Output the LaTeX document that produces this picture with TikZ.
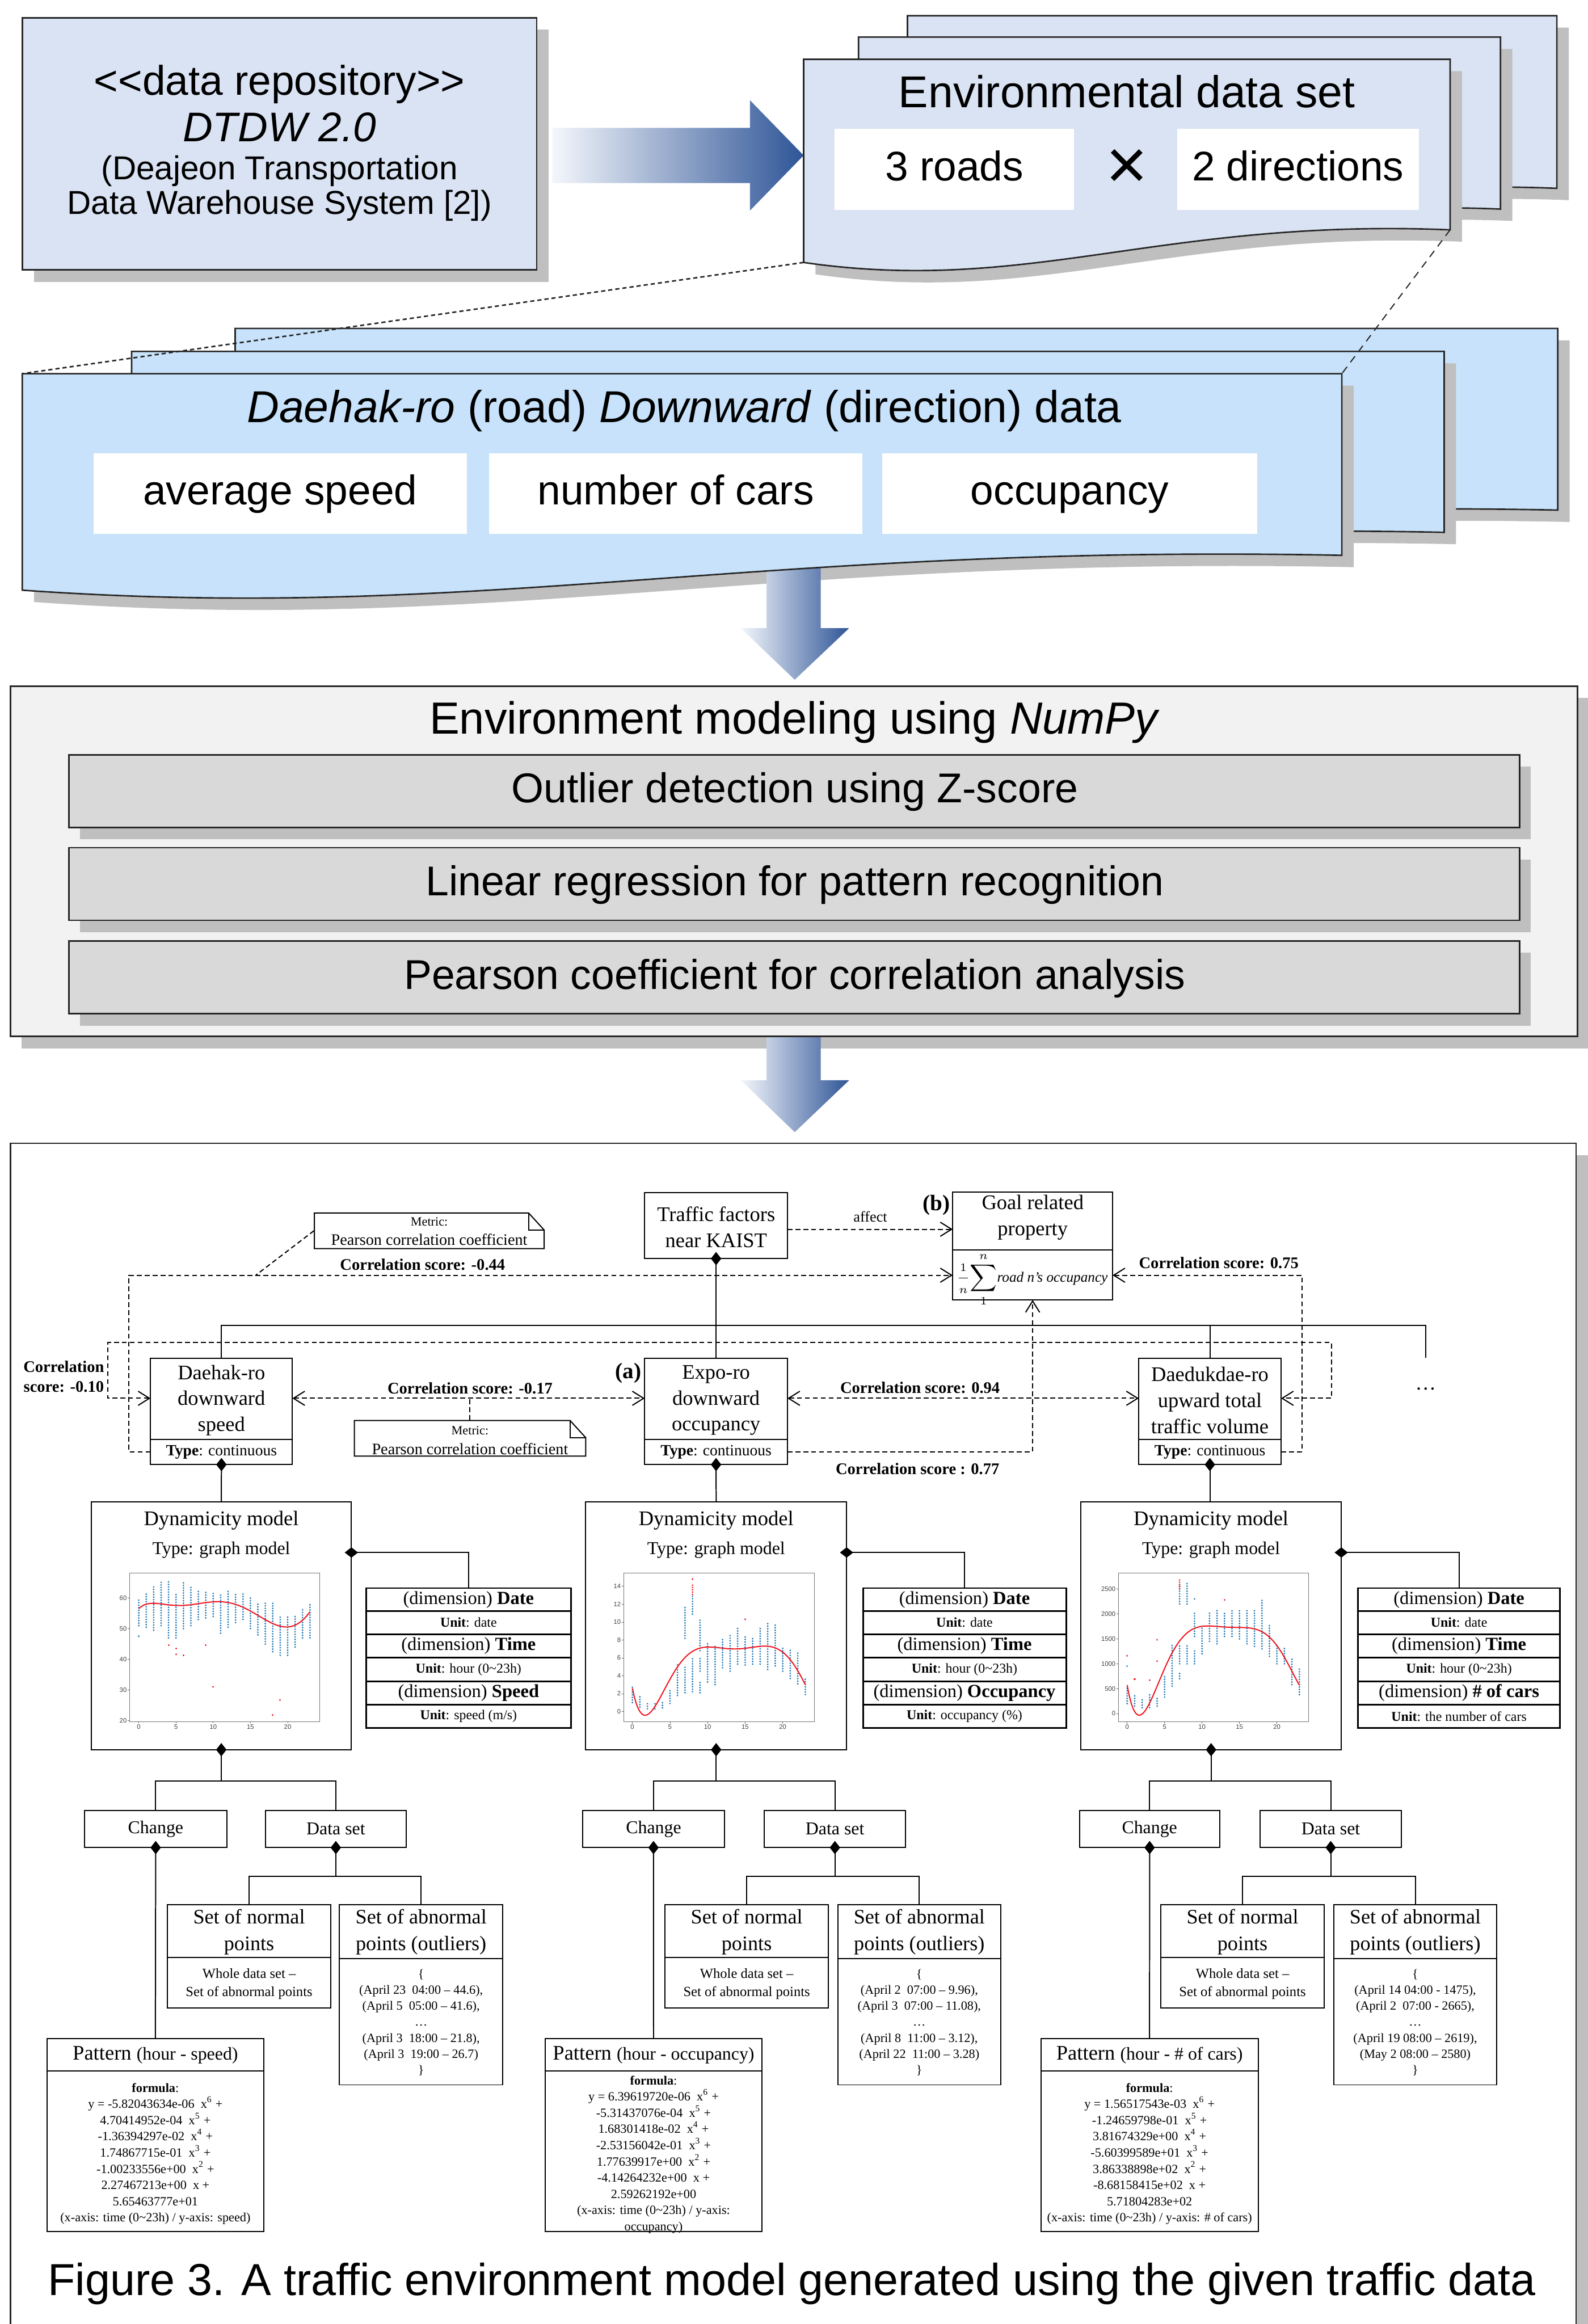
\documentclass[tikz,border=0pt]{standalone}
\usepackage{fontspec}
\setmainfont{Liberation Serif}
\newfontfamily\arial{Liberation Sans}
\usepackage{xfp}
\usetikzlibrary{arrows.meta,fit}

\newcommand\fs[2]{\fontsize{#1}{#2}\selectfont}
\definecolor{shd}{HTML}{BFBFBF}
\definecolor{lav}{HTML}{DAE3F3}
\definecolor{lblue}{HTML}{C7E2FA}
\definecolor{dblue}{HTML}{2F5597}
\definecolor{mblue}{HTML}{8FAADC}
\definecolor{pale}{HTML}{F4F7FC}
\definecolor{boxgray}{HTML}{D9D9D9}
\definecolor{panel}{HTML}{F2F2F2}
\definecolor{ptblue}{HTML}{1F77B4}
\definecolor{ptred}{HTML}{F0141E}
\definecolor{edge}{HTML}{262626}

\def\polyS#1{((((((-5.82043634e-06*#1+4.70414952e-04)*#1-1.36394297e-02)*#1+1.74867715e-01)*#1-1.00233556)*#1+2.27467213)*#1+56.5463777)}
\def\polyO#1{((((((6.39619720e-06*#1-5.31437076e-04)*#1+1.68301418e-02)*#1-2.53156042e-01)*#1+1.77639917)*#1-4.14264232)*#1+2.59262192)}
\def\polyC#1{((((((1.56517543e-03*#1-1.24659798e-01)*#1+3.81674329)*#1-56.0399589)*#1+386.338898)*#1-868.158415)*#1+571.804283)}
\newcount\cidx
\newcommand\mkcurve[2]{%
  \gdef#1{}\cidx=0
  \loop
    \edef\tmpx{\fpeval{\the\cidx/4}}%
    \edef\tmpy{\fpeval{round(#2{\tmpx},3)}}%
    \ifnum\cidx=0 \xdef#1{(\tmpx,\tmpy)}\else\xdef#1{#1 -- (\tmpx,\tmpy)}\fi
    \advance\cidx by 1
  \ifnum\cidx<93 \repeat}
\mkcurve\curveS\polyS
\mkcurve\curveO\polyO
\mkcurve\curveC\polyC

\newcommand\dmv[1]{\fill[black] #1 ++(0,-4.5) -- ++(3.5,4.5) -- ++(-3.5,4.5) -- ++(-3.5,-4.5) -- cycle;}
\newcommand\dmh[1]{\fill[black] #1 ++(-4.5,0) -- ++(4.5,3.5) -- ++(4.5,-3.5) -- ++(-4.5,-3.5) -- cycle;}
% L R T yl yr c2x c1x
\newcommand\docshadow[7]{\fill[shd] ({#1+8},{#3+8}) -- ({#2+8},{#3+8}) -- ({#2+8},{#5+8}) .. controls ({#6+8},{#5}) and ({#7+8},{#4+30}) .. ({#1+8},{#4+8}) -- cycle;}
\newcommand\docface[8]{\filldraw[fill=#8, draw=edge, line width=0.8pt] (#1,#3) -- (#2,#3) -- (#2,#5) .. controls (#6,{#5-8}) and (#7,{#4+22}) .. (#1,#4) -- cycle;}
\newcommand\notebox[5]{%
  \filldraw[fill=white, draw=black, line width=0.6pt] (#2,#3) -- ({#4-10.5},#3) -- (#4,{#3+11.5}) -- (#4,#5) -- (#2,#5) -- cycle;
  \draw[line width=0.6pt] ({#4-10.5},#3) -- ({#4-10.5},{#3+11.5}) -- (#4,{#3+11.5});
  \node[fit={(#2,#3) (#4,#5)}, inner sep=0pt] (#1) {};}
% name x1 x2 cx dim3 unit3
\newcommand\dimsbox[6]{%
  \node[ubox, line width=0.9pt, fit={(#2,1071) (#3,1165.5)}] (#1) {};
  \foreach \yy in {1086.5,1102,1118,1134,1149.5} \draw[line width=0.9pt] (#2,\yy) -- (#3,\yy);
  \node[dimh] (#1-a) at (#4,1078.75) {(dimension) \textbf{Date}};
  \node[dimu] (#1-b) at (#4,1094.25) {\textbf{Unit}: date};
  \node[dimh] (#1-c) at (#4,1110) {(dimension) \textbf{Time}};
  \node[dimu] (#1-d) at (#4,1126) {\textbf{Unit}: hour (0\textasciitilde23h)};
  \node[dimh] (#1-e) at (#4,1141.75) {(dimension) \textbf{#5}};
  \node[dimu] (#1-f) at (#4,1157.5) {\textbf{Unit}: #6};}

\begin{document}
\begin{tikzpicture}[x=0.02766cm, y=-0.02766cm,
  ubox/.style={draw=black, line width=0.6pt, fill=white, inner sep=0pt, outer sep=0pt},
  uline/.style={draw=black, line width=0.6pt},
  dln/.style={draw=black, line width=0.6pt, dash pattern=on 2.6pt off 1.6pt},
  oarr/.style={-{Straight Barb[length=6pt,width=7.5pt]}},
  barr/.style={{Straight Barb[length=6pt,width=7.5pt]}-{Straight Barb[length=6pt,width=7.5pt]}},
  t11/.style={font=\fs{11}{13.8}, align=center, inner sep=0pt},
  t96/.style={font=\fs{9.6}{12}, align=center, inner sep=0pt},
  t8/.style={font=\fs{8.3}{10}, align=center, inner sep=0pt},
  lbl/.style={font=\bfseries\fs{8.6}{10.5}, align=center, inner sep=0pt},
  dimh/.style={font=\fs{9.8}{11}, inner sep=0pt},
  dimu/.style={font=\fs{7.2}{8.5}, inner sep=0pt},
  nort/.style={font=\fs{10.9}{14.2}, align=center, inner sep=0pt},
  nors/.style={font=\fs{7.4}{9.7}, align=center, inner sep=0pt},
  outl/.style={font=\fs{6.7}{8.5}, align=center, inner sep=0pt},
  form/.style={font=\fs{6.7}{8.6}, align=center, inner sep=0pt},
  tk/.style={font=\arial\fs{3.4}{3.6}, text=black!75, inner sep=0.4pt},
  tkl/.style={draw=black!60, line width=0.2pt},
  pframe/.style={draw=black!55, line width=0.35pt},
  ptcol/.style={draw=ptblue, line width=0.95pt, line cap=round, dash pattern=on 0pt off 1.35pt},
  pdot/.style={line width=0.95pt, line cap=round},
  curv/.style={draw=ptred, line width=0.6pt},
  sanstxt/.style={inner sep=0pt, align=center},
  sb/.style={inner sep=0pt, anchor=base},
]
\useasboundingbox (0,0) rectangle (1071,1567.3);

% ================= TOP =================
\fill[shd] (23,20) rectangle (370,190);
\node[fit={(15,12) (362,182)}, inner sep=0pt, draw=edge, fill=lav, line width=0.8pt] (repo) {};
\node[sb, font=\arial\fs{22}{22}] (repoA) at (188.5,64) {<\kern0pt<data repository>\kern0pt>};
\node[sb, font=\arial\fs{22}{22}] (repoB) at (188.5,95.5) {\textit{DTDW 2.0}};
\node[sb, font=\arial\fs{17.6}{18.1}] (repoC) at (188.5,121) {(Deajeon Transportation};
\node[sb, font=\arial\fs{17.6}{18.1}] (repoD) at (188.5,144.6) {Data Warehouse System [2])};

\shade[left color=pale, middle color=mblue, right color=dblue] (372.4,86.2) -- (505.8,86.2) -- (505.8,67.6) -- (542,104.8) -- (505.8,142) -- (505.8,123.4) -- (372.4,123.4) -- cycle;

\docshadow{612}{1050}{10.6}{149}{127}{852.9}{765.3}
\docface{612}{1050}{10.6}{149}{127}{852.9}{765.3}{lav}
\docshadow{579}{1012}{25}{163}{141}{817.2}{730.6}
\docface{579}{1012}{25}{163}{141}{817.2}{730.6}{lav}
\docshadow{542}{978}{40}{177}{155}{781.8}{694.6}
\docface{542}{978}{40}{177}{155}{781.8}{694.6}{lav}
\coordinate (envBL) at (542,177);
\coordinate (envBR) at (978,155);
\node[sb, font=\arial\fs{23.7}{24}] (envT) at (760,72.5) {Environmental data set};
\node[fit={(563,86.7) (724.5,141.4)}, fill=white, inner sep=0pt] (roads) {};
\node[sb, font=\arial\fs{22}{22}] (roadsT) at (643.7,122) {3 roads};
\node[fit={(794,86.7) (956.8,141.4)}, fill=white, inner sep=0pt] (dirs) {};
\node[sb, font=\arial\fs{22}{22}] (dirsT) at (875.4,122) {2 directions};
\node[sanstxt, font=\arial\fs{38}{38}] (times) at (760,114) {×};

% blue pages
\docshadow{158.6}{1050.6}{221.5}{368}{344}{649.2}{470.8}
\docface{158.6}{1050.6}{221.5}{368}{344}{649.2}{470.8}{lblue}
\docshadow{88.8}{974}{237}{383}{359}{575.7}{398.6}
\docface{88.8}{974}{237}{383}{359}{575.7}{398.6}{lblue}
\docshadow{15}{905}{252}{398}{374.5}{504.5}{326.5}
\shade[left color=pale, right color=dblue] (517,370) -- (553.5,370) -- (553.5,423.6) -- (572.7,423.6) -- (536,458.4) -- (499.6,423.6) -- (517,423.6) -- cycle;
\docface{15}{905}{252}{398}{374.5}{504.5}{326.5}{lblue}
\coordinate (blueTL) at (15,252);
\coordinate (blueTR) at (905,252);
\draw[edge, line width=0.8pt, dash pattern=on 2.2pt off 1.6pt] (envBL) -- (blueTL);
\draw[edge, line width=0.6pt, dash pattern=on 4pt off 3pt] (envBR) -- (blueTR);
\node[sb, font=\arial\fs{23.7}{24}] (dataT) at (461.5,285) {\textit{Daehak-ro} (road) \textit{Downward} (direction) data};
\node[fit={(63,305.6) (315,360)}, fill=white, inner sep=0pt] (avg) {};
\node[sb, font=\arial\fs{22}{22}] (avgT) at (189,340.5) {average speed};
\node[fit={(330,305.6) (581.6,360)}, fill=white, inner sep=0pt] (ncars) {};
\node[sb, font=\arial\fs{22}{22}] (ncarsT) at (455.8,340.5) {number of cars};
\node[fit={(595,305.6) (848,360)}, fill=white, inner sep=0pt] (occ) {};
\node[sb, font=\arial\fs{22}{22}] (occT) at (721.5,340.5) {occupancy};

% ================= MIDDLE =================
\fill[shd] (14.5,470.7) rectangle (1071.5,707);
\shade[left color=pale, right color=dblue] (517,695) -- (553.5,695) -- (553.5,728.5) -- (572.7,728.5) -- (536,763.5) -- (499.6,728.5) -- (517,728.5) -- cycle;
\node[fit={(7,462.7) (1064,699)}, inner sep=0pt, draw=edge, fill=panel, line width=0.8pt] (envmod) {};
\node[sb, font=\arial\fs{23.9}{24}] (envmodT) at (536,495) {Environment modeling using \textit{NumPy}};
\fill[shd] (54,517) rectangle (1032.5,566);
\node[fit={(46.5,509) (1025,558)}, inner sep=0pt, draw=edge, fill=boxgray, line width=0.8pt] (m1) {};
\node[sb, font=\arial\fs{22.1}{22}] (m1T) at (536,541.3) {Outlier detection using Z-score};
\fill[shd] (54,579.6) rectangle (1032.5,628.7);
\node[fit={(46.5,571.6) (1025,620.7)}, inner sep=0pt, draw=edge, fill=boxgray, line width=0.8pt] (m2) {};
\node[sb, font=\arial\fs{22.1}{22}] (m2T) at (536,604) {Linear regression for pattern recognition};
\fill[shd] (54,642.5) rectangle (1032.5,691.7);
\node[fit={(46.5,634.5) (1025,683.7)}, inner sep=0pt, draw=edge, fill=boxgray, line width=0.8pt] (m3) {};
\node[sb, font=\arial\fs{22.1}{22}] (m3T) at (536,667) {Pearson coefficient for correlation analysis};

% ================= BOTTOM FRAME =================
\fill[shd] (15,779) rectangle (1071,1580);
\node[fit={(7,771) (1063,1580)}, inner sep=0pt, draw=edge, fill=white, line width=0.8pt] (frame) {};
\node[sb, font=\arial\fs{23.8}{24}] (caption) at (534,1548) {Figure 3. A traffic environment model generated using the given traffic data};

% level coordinates
\coordinate (y829) at (0,829);
\coordinate (y860) at (0,860);
\coordinate (y894) at (0,894);
\coordinate (y943) at (0,943);
\coordinate (y979) at (0,979);
\coordinate (y1047) at (0,1047);
\coordinate (y1201) at (0,1201);
\coordinate (y1265) at (0,1265.5);

% top row
\node[ubox, fit={(434.8,804.3) (531.1,848.8)}] (traffic) {};
\node[t11] (trafficT) at (483,827.5) {Traffic factors\\near KAIST};
\node[ubox, fit={(642.5,803.8) (750.4,876.7)}] (goal) {};
\draw[uline] (642.5,843) -- (750.4,843);
\node[t11] (goalT) at (696.5,821) {Goal related\\property};
\node[inner sep=0pt, anchor=west] (goalF) at (645,862.8) {\fs{8}{9}$\displaystyle\frac{\scriptstyle 1}{\scriptstyle n}\!\sum_{1}^{n}$\fs{7.6}{9}\textit{road n's occupancy}};
\node[font=\bfseries\fs{11.8}{13}, inner sep=0pt] (labb) at (631.5,812.8) {(b)};
\node[font=\fs{7.9}{9}, inner sep=0pt] (affectL) at (587,820.7) {affect};

% attribute boxes
\node[ubox, fit={(101.5,916) (197.2,987.7)}] (dah) {};
\draw[uline] (101.5,970.6) -- (197.2,970.6);
\node[t11] (dahT) at (149.35,944.4) {Daehak-ro\\downward\\speed};
\node[t8] (dahU) at (149.35,979.3) {\textbf{Type}: continuous};
\node[ubox, fit={(434.8,916) (531.1,987.7)}] (expo) {};
\draw[uline] (434.8,970.6) -- (531.1,970.6);
\node[t11] (expoT) at (482.95,944.4) {Expo-ro\\downward\\occupancy};
\node[t8] (expoU) at (482.95,979.3) {\textbf{Type}: continuous};
\node[ubox, fit={(768,916) (864,987.7)}] (dae) {};
\draw[uline] (768,970.6) -- (864,970.6);
\node[t11] (daeT) at (816,944.4) {Daedukdae-ro\\upward total\\traffic volume};
\node[t8] (daeU) at (816,979.3) {\textbf{Type}: continuous};
\node[font=\bfseries\fs{11.8}{13}, inner sep=0pt] (laba) at (423.7,926) {(a)};
\node[font=\fs{11}{12}, inner sep=0pt] (more) at (961.5,936.6) {…};
\coordinate (moreTop) at (961.5,915.5);

% tree lines
\draw[uline] (traffic.south) -- (expo.north);
\draw[uline] (dah.north) |- (moreTop |- y894) -- (moreTop);
\draw[uline] (dae.north) -- (dae.north |- y894);
\dmv{(traffic.south)}

% notes
\notebox{note1}{212}{818}{367}{842}
\node[font=\fs{6.7}{8}, inner sep=0pt] (note1a) at (289.5,824) {Metric:};
\node[font=\fs{8.5}{10}, inner sep=0pt] (note1b) at (289.5,836) {Pearson correlation coefficient};
\notebox{note2}{239}{958}{395}{982}
\node[font=\fs{6.7}{8}, inner sep=0pt] (note2a) at (317,964.6) {Metric:};
\node[font=\fs{8.5}{10}, inner sep=0pt] (note2b) at (317,977) {Pearson correlation coefficient};

% dashed connectors
\draw[dln, oarr] (traffic.east |- y829) -- (goal.west |- y829);
\draw[dln, barr] (dah.east |- y943) -- (expo.west |- y943);
\draw[dln, barr] (expo.east |- y943) -- (dae.west |- y943);
\draw[dln, barr] (dah.west |- y943) -- (72.7,943) |- (898,905.5) |- (dae.east |- y943);
\draw[dln, oarr] (dah.west |- y979) -- (87,979) |- (goal.west |- y860);
\draw[dln, oarr] (expo.east |- y979) -| (goal.south);
\draw[dln, oarr] (dae.east |- y979) -- (878,979) |- (goal.east |- y860);
\draw[dln] (note1.west) -- (172.5,860);
\draw[dln] (note2.north) -- (note2.north |- y943);

\node[lbl] (c044) at (285,853) {Correlation score: -0.44};
\node[lbl] (c017) at (317,936.3) {Correlation score: -0.17};
\node[lbl] (c094) at (620.5,935.8) {Correlation score: 0.94};
\node[lbl] (c077) at (618.8,990.6) {Correlation score : 0.77};
\node[lbl] (c075) at (822,851.8) {Correlation score: 0.75};
\node[lbl] (c010) at (43,928.3) {Correlation\\score: -0.10};

% ================= COLUMN 1 =================
\node[ubox, fit={(61.5,1013) (237,1180)}] (dyn1) {};
\node[t11] (dyn1a) at (149.25,1025.5) {Dynamicity model};
\node[t96] (dyn1b) at (149.25,1045.4) {Type: graph model};
\draw[uline] (dah.south) -- (dyn1.north);
\dmv{(dah.south)}
\draw[pframe] (87.4,1061) rectangle (215.7,1161);
\foreach \v in {20,30,40,50,60} {\draw[tkl] (87.4,{1201.7-2.067*\v}) -- (86.2,{1201.7-2.067*\v}); \node[tk, anchor=east] (sa\v) at (86.2,{1201.7-2.067*\v}) {\v};}
\foreach \h in {0,5,10,15,20} {\draw[tkl] ({93.6+5.02*\h},1161) -- ({93.6+5.02*\h},1162.2); \node[tk, anchor=north] (sb\h) at ({93.6+5.02*\h},1162.2) {\h};}
\begin{scope}[shift={(93.6,1201.7)}, xscale=5.02, yscale=-2.067]
  \foreach \h/\a/\b in {0/51/60,1/50.5/62,2/49.5/64,3/51/65.5,4/47/66,5/47/61.5,6/50/65,7/51/63.5,8/53/62.5,9/53.5/62.5,10/54/62,11/48.5/61.5,12/50.5/62.5,13/52/61.5,14/53/61.5,15/50/60.5,16/48/58.5,17/45/58.5,18/42.5/58.5,19/41.3/54.5,20/41.3/54,21/44/54.5,22/47/56.5,23/47/58.5}
    \draw[ptcol] (\h,\a) -- (\h,\b);
  \draw[pdot, ptblue] (0,47.5) -- ++(0,0.05);
  \draw[curv] \curveS;
  \foreach \h/\v in {4/44.6,5/43.5,5/41.6,6/41.3,9/44.6,10/31,18/21.8,19/26.7}
    \draw[pdot, ptred] (\h,\v) -- ++(0,0.05);
\end{scope}
\dimsbox{dims1}{247}{385}{316}{Speed}{speed (m/s)}
\draw[uline] (dyn1.east |- y1047) -| (dims1.north);
\dmh{(dyn1.east |- y1047)}

\node[ubox, fit={(57,1221) (153,1246)}] (chg1) {};
\node[t96] (chg1T) at (105,1233.5) {Change};
\node[ubox, fit={(179,1221) (274,1246)}] (ds1) {};
\node[t96] (ds1T) at (226.5,1233.5) {Data set};
\draw[uline] (dyn1.south) -- (dyn1.south |- y1201);
\draw[uline] (chg1.north) |- (ds1.north |- y1201) -- (ds1.north);
\dmv{(dyn1.south)}
\node[ubox, fit={(113,1284.5) (223,1354)}] (nor1) {};
\draw[uline] (113,1320) -- (223,1320);
\node[nort] (nor1a) at (168,1303) {Set of normal\\points};
\node[nors] (nor1b) at (168,1337.8) {Whole data set –\\Set of abnormal points};
\node[ubox, fit={(229,1284.5) (339,1406)}] (ab1) {};
\draw[uline] (229,1321) -- (339,1321);
\node[nort] (ab1a) at (284,1303) {Set of abnormal\\points (outliers)};
\node[outl] (ab1b) at (284,1364) {\{\\(April 23\enspace 04:00 – 44.6),\\(April 5\enspace 05:00 – 41.6),\\…\\(April 3\enspace 18:00 – 21.8),\\(April 3\enspace 19:00 – 26.7)\\\}};
\draw[uline] (ds1.south) -- (ds1.south |- y1265);
\draw[uline] (nor1.north) |- (ab1.north |- y1265) -- (ab1.north);
\dmv{(ds1.south)}
\node[ubox, fit={(31.6,1375) (178,1505)}] (pat1) {};
\draw[uline] (31.6,1396.6) -- (178,1396.6);
\node[inner sep=0pt] (pat1a) at (104.8,1386) {\fs{11}{13}Pattern \fs{9.6}{12}(hour - speed)};
\node[form] (pat1b) at (104.8,1452.5) {\textbf{formula}:\\y = -5.82043634e-06\enspace x\textsuperscript{6} +\\4.70414952e-04\enspace x\textsuperscript{5} +\\-1.36394297e-02\enspace x\textsuperscript{4} +\\1.74867715e-01\enspace x\textsuperscript{3} +\\-1.00233556e+00\enspace x\textsuperscript{2} +\\2.27467213e+00\enspace x +\\5.65463777e+01\\(x-axis: time (0\textasciitilde23h) / y-axis: speed)};
\draw[uline] (chg1.south) -- (pat1.north);
\dmv{(chg1.south)}

% ================= COLUMN 2 =================
\node[ubox, fit={(395,1013) (571,1180)}] (dyn2) {};
\node[t11] (dyn2a) at (483,1025.5) {Dynamicity model};
\node[t96] (dyn2b) at (483,1045.4) {Type: graph model};
\draw[uline] (expo.south) -- (dyn2.north);
\dmv{(expo.south)}
\draw[pframe] (420.6,1060.7) rectangle (549.2,1161.1);
\foreach \v in {0,2,4,6,8,10,12,14} {\draw[tkl] (420.6,{1154.2-6.03*\v}) -- (419.4,{1154.2-6.03*\v}); \node[tk, anchor=east] (oa\v) at (419.4,{1154.2-6.03*\v}) {\v};}
\foreach \h in {0,5,10,15,20} {\draw[tkl] ({426.5+5.07*\h},1161.1) -- ({426.5+5.07*\h},1162.3); \node[tk, anchor=north] (ob\h) at ({426.5+5.07*\h},1162.3) {\h};}
\begin{scope}[shift={(426.5,1154.2)}, xscale=5.07, yscale=-6.03]
  \foreach \h/\a/\b in {0/1/2.8,1/0.5/1.8,2/0.3/1.1,3/0.3/1,4/0.4/1.1,5/0.9/2.6,6/1.8/5.4,7/2.1/5,7/8.2/11.8,8/2.2/6,8/10.9/13,9/2.1/3.3,9/4.5/6,9/6.8/10.4,10/3.3/7.6,11/3/7.3,12/4.9/8.1,13/4.5/8.6,14/5.3/9.5,15/5.2/8.6,16/5.3/8.3,17/5.3/9.4,18/4.7/10,19/5.1/9.7,20/4.5/7.3,21/3.7/7.1,22/3.1/6.6,23/1.9/3.8}
    \draw[ptcol] (\h,\a) -- (\h,\b);
  \draw[curv] \curveO;
  \draw[ptred, line width=0.9pt, line cap=round, dash pattern=on 0pt off 1.2pt] (8,13.1) -- (8,14.2);
  \foreach \h/\v in {8/14.8,15/10.3}
    \draw[pdot, ptred] (\h,\v) -- ++(0,0.02);
\end{scope}
\dimsbox{dims2}{582}{719}{650.5}{Occupancy}{occupancy (\%)}
\draw[uline] (dyn2.east |- y1047) -| (dims2.north);
\dmh{(dyn2.east |- y1047)}

\node[ubox, fit={(393,1221) (488.5,1246)}] (chg2) {};
\node[t96] (chg2T) at (440.8,1233.5) {Change};
\node[ubox, fit={(515.6,1221) (610.6,1246)}] (ds2) {};
\node[t96] (ds2T) at (563.1,1233.5) {Data set};
\draw[uline] (dyn2.south) -- (dyn2.south |- y1201);
\draw[uline] (chg2.north) |- (ds2.north |- y1201) -- (ds2.north);
\dmv{(dyn2.south)}
\node[ubox, fit={(448.6,1284.5) (558.6,1354)}] (nor2) {};
\draw[uline] (448.6,1320) -- (558.6,1320);
\node[nort] (nor2a) at (503.6,1303) {Set of normal\\points};
\node[nors] (nor2b) at (503.6,1337.8) {Whole data set –\\Set of abnormal points};
\node[ubox, fit={(565,1284.5) (675,1406)}] (ab2) {};
\draw[uline] (565,1321) -- (675,1321);
\node[nort] (ab2a) at (620,1303) {Set of abnormal\\points (outliers)};
\node[outl] (ab2b) at (620,1364) {\{\\(April 2\enspace 07:00 – 9.96),\\(April 3\enspace 07:00 – 11.08),\\…\\(April 8\enspace 11:00 – 3.12),\\(April 22\enspace 11:00 – 3.28)\\\}};
\draw[uline] (ds2.south) -- (ds2.south |- y1265);
\draw[uline] (nor2.north) |- (ab2.north |- y1265) -- (ab2.north);
\dmv{(ds2.south)}
\node[ubox, fit={(367.6,1375) (514,1505)}] (pat2) {};
\draw[uline] (367.6,1396.6) -- (514,1396.6);
\node[inner sep=0pt] (pat2a) at (440.8,1386) {\fs{11}{13}Pattern \fs{9.6}{12}(hour - occupancy)};
\node[form] (pat2b) at (440.8,1453) {\textbf{formula}:\\y = 6.39619720e-06\enspace x\textsuperscript{6} +\\-5.31437076e-04\enspace x\textsuperscript{5} +\\1.68301418e-02\enspace x\textsuperscript{4} +\\-2.53156042e-01\enspace x\textsuperscript{3} +\\1.77639917e+00\enspace x\textsuperscript{2} +\\-4.14264232e+00\enspace x +\\2.59262192e+00\\(x-axis: time (0\textasciitilde23h) / y-axis:\\occupancy)};
\draw[uline] (chg2.south) -- (pat2.north);
\dmv{(chg2.south)}

% ================= COLUMN 3 =================
\node[ubox, fit={(729,1013) (904.6,1180)}] (dyn3) {};
\node[t11] (dyn3a) at (816.8,1025.5) {Dynamicity model};
\node[t96] (dyn3b) at (816.8,1045.4) {Type: graph model};
\draw[uline] (dae.south) -- (dae.south |- dyn3.north);
\dmv{(dae.south)}
\draw[pframe] (754.3,1060.7) rectangle (882.4,1161.1);
\foreach \v in {0,500,1000,1500,2000,2500} {\draw[tkl] (754.3,{1155.6-0.0336*\v}) -- (753.1,{1155.6-0.0336*\v}); \node[tk, anchor=east] (ca\v) at (753.1,{1155.6-0.0336*\v}) {\v};}
\foreach \h in {0,5,10,15,20} {\draw[tkl] ({760.2+5.05*\h},1161.1) -- ({760.2+5.05*\h},1162.3); \node[tk, anchor=north] (cb\h) at ({760.2+5.05*\h},1162.3) {\h};}
\begin{scope}[shift={(760.2,1155.6)}, xscale=5.05, yscale=-0.0336]
  \foreach \h/\a/\b in {0/200/550,1/150/380,2/120/320,3/120/400,4/150/350,5/330/750,6/550/1400,7/700/850,7/1000/1400,7/2200/2600,8/1000/1400,8/2200/2620,9/1000/1300,9/1550/2050,10/1200/1750,11/1450/2050,12/1400/2100,13/1550/2050,14/1550/2100,15/1500/2100,16/1400/2100,17/1350/2100,18/1300/2300,19/1150/1800,20/1000/1400,21/1000/1330,22/580/1100,23/380/900}
    \draw[ptcol] (\h,\a) -- (\h,\b);
  \foreach \h/\v in {0/950,9/2300}
    \draw[pdot, ptblue] (\h,\v) -- ++(0,1);
  \draw[curv] \curveC;
  \draw[ptred, line width=0.9pt, line cap=round, dash pattern=on 0pt off 1.2pt] (7,2500) -- (7,2700);
  \foreach \h/\v in {0/1160,1/690,3/670,4/1050,4/1480,13/2280}
    \draw[pdot, ptred] (\h,\v) -- ++(0,1);
\end{scope}
\dimsbox{dims3}{916}{1052}{984}{\# of cars}{the number of cars}
\draw[uline] (dyn3.east |- y1047) -| (dims3.north);
\dmh{(dyn3.east |- y1047)}

\node[ubox, fit={(728,1221) (822.7,1246)}] (chg3) {};
\node[t96] (chg3T) at (775.3,1233.5) {Change};
\node[ubox, fit={(850,1221) (945,1246)}] (ds3) {};
\node[t96] (ds3T) at (897.5,1233.5) {Data set};
\draw[uline] (dyn3.south) -- (dyn3.south |- y1201);
\draw[uline] (chg3.north) |- (ds3.north |- y1201) -- (ds3.north);
\dmv{(dyn3.south)}
\node[ubox, fit={(783,1284.5) (893,1354)}] (nor3) {};
\draw[uline] (783,1320) -- (893,1320);
\node[nort] (nor3a) at (838,1303) {Set of normal\\points};
\node[nors] (nor3b) at (838,1337.8) {Whole data set –\\Set of abnormal points};
\node[ubox, fit={(899.6,1284.5) (1009.5,1406)}] (ab3) {};
\draw[uline] (899.6,1321) -- (1009.5,1321);
\node[nort] (ab3a) at (954.5,1303) {Set of abnormal\\points (outliers)};
\node[outl] (ab3b) at (954.5,1364) {\{\\(April 14 04:00 - 1475),\\(April 2\enspace 07:00 - 2665),\\…\\(April 19 08:00 – 2619),\\(May 2 08:00 – 2580)\\\}};
\draw[uline] (ds3.south) -- (ds3.south |- y1265);
\draw[uline] (nor3.north) |- (ab3.north |- y1265) -- (ab3.north);
\dmv{(ds3.south)}
\node[ubox, fit={(702,1375) (848.6,1505)}] (pat3) {};
\draw[uline] (702,1396.6) -- (848.6,1396.6);
\node[inner sep=0pt] (pat3a) at (775.3,1386) {\fs{11}{13}Pattern \fs{9.6}{12}(hour - \# of cars)};
\node[form] (pat3b) at (775.3,1452.5) {\textbf{formula}:\\y = 1.56517543e-03\enspace x\textsuperscript{6} +\\-1.24659798e-01\enspace x\textsuperscript{5} +\\3.81674329e+00\enspace x\textsuperscript{4} +\\-5.60399589e+01\enspace x\textsuperscript{3} +\\3.86338898e+02\enspace x\textsuperscript{2} +\\-8.68158415e+02\enspace x +\\5.71804283e+02\\(x-axis: time (0\textasciitilde23h) / y-axis: \# of cars)};
\draw[uline] (chg3.south) -- (pat3.north);
\dmv{(chg3.south)}
\end{tikzpicture}
\end{document}
